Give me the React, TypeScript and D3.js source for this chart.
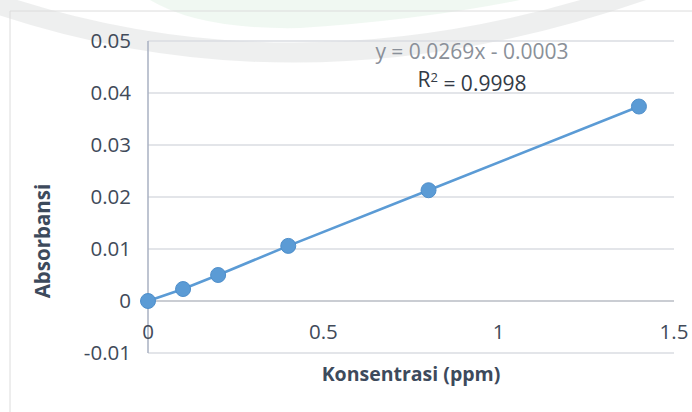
import React from "react";
import * as d3 from "d3";

const concentrations = [0, 0.1, 0.2, 0.4, 0.8, 1.4];
const absorbances = [0, 0.0023, 0.005, 0.0106, 0.0213, 0.0374];
const xTicks = [0, 0.5, 1, 1.5];
const yTicks = [-0.01, 0, 0.01, 0.02, 0.03, 0.04, 0.05];
const equationText = "y = 0.0269x - 0.0003";
const xTitle = "Konsentrasi (ppm)";
const yTitle = "Absorbansi";

const W = 692;
const H = 412;

export default function App() {
  const x = d3.scaleLinear().domain([0, 1.5]).range([148, 674]);
  const y = d3.scaleLinear().domain([-0.01, 0.05]).range([353, 41]);
  const pts = concentrations.map((c, i) => [c, absorbances[i]] as [number, number]);
  const line = d3
    .line<[number, number]>()
    .x((d) => x(d[0]))
    .y((d) => y(d[1]));
  const font = "'Open Sans', sans-serif";
  const fmtY = (v: number) => (v === 0 ? "0" : d3.format(".2f")(v).replace("\u2212", "-"));
  const fmtX = (v: number) => String(v);

  return (
    <svg
      width={W}
      height={H}
      style={{ position: "absolute", left: 0, top: 0, background: "#fff" }}
    >
      {/* watermark */}
      <path d="M 150 0 L 520 0 Q 420 20 300 28 Q 200 30 150 0 Z" fill="#e3f3e8" opacity={0.55} />
      <path
        d="M -20 -2 Q 300 112 650 -12"
        fill="none"
        stroke="#d4d6d8"
        strokeWidth={20}
        opacity={0.4}
      />
      {/* chart border */}
      <line x1={10} x2={W} y1={11} y2={11} stroke="#dcdcdc" />
      <line x1={10} x2={10} y1={11} y2={H} stroke="#dcdcdc" />

      {/* gridlines */}
      {yTicks.map((t) => (
        <line
          key={"g" + t}
          x1={x(0)}
          x2={x(1.5)}
          y1={y(t)}
          y2={y(t)}
          stroke={t === 0 ? "#b8bcc4" : "#dadde2"}
          strokeWidth={t === 0 ? 1.5 : 1.3}
        />
      ))}
      {/* y axis line */}
      <line x1={x(0)} x2={x(0)} y1={y(0.05)} y2={y(-0.01)} stroke="#a9b0c2" strokeWidth={1.5} />

      {/* y tick labels */}
      {yTicks.map((t) => (
        <text
          key={"yl" + t}
          x={131}
          y={y(t)}
          dy="0.35em"
          textAnchor="end"
          fontFamily={font}
          fontSize={20.5}
          fill="#414a59"
        >
          {fmtY(t)}
        </text>
      ))}
      {/* x tick labels */}
      {xTicks.map((t) => (
        <text
          key={"xl" + t}
          x={x(t)}
          y={332}
          dy="0.35em"
          textAnchor="middle"
          fontFamily={font}
          fontSize={20.5}
          fill="#414a59"
        >
          {fmtX(t)}
        </text>
      ))}

      {/* series */}
      <path d={line(pts) || ""} fill="none" stroke="#5b9bd5" strokeWidth={2.6} />
      {pts.map((p, i) => (
        <circle key={"p" + i} cx={x(p[0])} cy={y(p[1])} r={7.5} fill="#5b9bd5" stroke="#4f8fcb" strokeWidth={1} />
      ))}

      {/* equation */}
      <text x={472} y={52} dy="0.35em" textAnchor="middle" fontFamily={font} fontSize={21} fill="#8a9099">
        {equationText}
      </text>
      <text x={472} y={80} dy="0.35em" textAnchor="middle" fontFamily={font} fontSize={21} fill="#333a45">
        R<tspan dy="-0.45em" fontSize={13}>2</tspan>
        <tspan dy="0.45em"> = 0.9998</tspan>
      </text>

      {/* axis titles */}
      <text
        transform={`translate(43, 241) rotate(-90)`}
        dy="0.35em"
        textAnchor="middle"
        fontFamily={font}
        fontWeight="bold"
        fontSize={20.5}
        fill="#3d4a5c"
      >
        {yTitle}
      </text>
      <text
        x={411}
        y={374}
        dy="0.35em"
        textAnchor="middle"
        fontFamily={font}
        fontWeight="bold"
        fontSize={19.5}
        fill="#3d4a5c"
      >
        {xTitle}
      </text>
    </svg>
  );
}
